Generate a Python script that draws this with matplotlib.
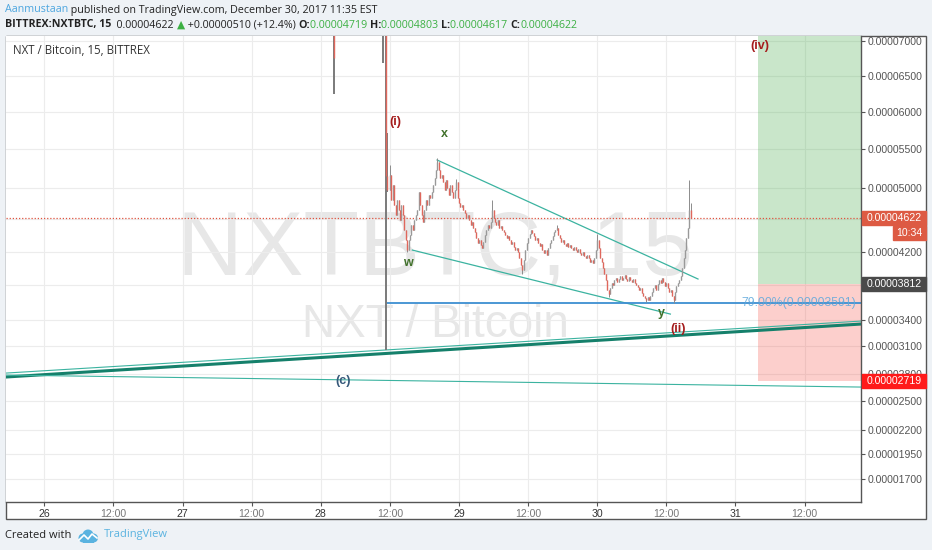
import numpy as np
import matplotlib
matplotlib.use("Agg")
import matplotlib.pyplot as plt
from matplotlib.patches import Rectangle, Circle

W, H = 932, 550
E8 = 1e-8

# prices are in 1e-8 BTC, time is hours after Dec 26 00:00
pre_time = [50.25, 58.75, 59.25, 59.5]
pre_open = [7600, 7400, 9500, 5150]
pre_high = [7700, 7500, 9500, 5720]
pre_low = [6250, 6680, 3060, 4950]
pre_close = [6750, 7300, 5150, 4970]

bar_start = 59.75
bar_step = 0.25
closes = [
    4970, 5165, 4845, 5035, 4780, 4655, 4845, 4720, 4595, 4780,
    4655, 4470, 4345, 4225, 4345, 4405, 4530, 4470, 4595, 4655,
    4720, 4945, 4780, 4655, 4570, 4720, 4845, 4780, 4905, 4870,
    4945, 5035, 5125, 5230, 5335, 5230, 5125, 5165, 5075, 4970,
    5100, 4995, 4905, 5035, 4945, 4870, 4970, 5075, 4870, 4805,
    4755, 4780, 4720, 4680, 4620, 4655, 4595, 4530, 4570, 4495,
    4445, 4370, 4310, 4345, 4285, 4250, 4320, 4405, 4470, 4530,
    4495, 4570, 4720, 4620, 4570, 4530, 4595, 4495, 4520, 4470,
    4445, 4405, 4370, 4395, 4345, 4300, 4320, 4260, 4225, 4250,
    4200, 4130, 4045, 3985, 4105, 4225, 4310, 4370, 4420, 4470,
    4435, 4395, 4345, 4370, 4310, 4270, 4300, 4225, 4185, 4225,
    4165, 4250, 4310, 4345, 4395, 4445, 4470, 4495, 4405, 4370,
    4320, 4345, 4300, 4270, 4310, 4260, 4285, 4250, 4225, 4260,
    4225, 4200, 4235, 4185, 4165, 4200, 4150, 4130, 4165, 4130,
    4080, 4105, 4070, 4130, 4225, 4345, 4250, 4130, 4080, 4010,
    3940, 3865, 3745, 3700, 3770, 3830, 3805, 3865, 3890, 3840,
    3880, 3915, 3865, 3890, 3925, 3880, 3855, 3900, 3865, 3840,
    3880, 3830, 3805, 3785, 3745, 3770, 3710, 3675, 3650, 3630,
    3665, 3630, 3675, 3725, 3770, 3805, 3745, 3815, 3865, 3830,
    3890, 3840, 3795, 3830, 3770, 3725, 3745, 3675, 3630, 3725,
    3795, 3830, 3865, 3915, 4010, 4130, 4225, 4370, 4495, 4719,
    4622,
]
# bar index -> (high, low) where the wick sticks out
wicks = {1: (5300, 4970), 13: (4345, 4200), 34: (5385, 5230), 47: (5110, 4970),
         72: (4850, 4570), 93: (4045, 3930), 117: (4530, 4470), 145: (4420, 4225),
         153: (3745, 3660), 179: (3650, 3610), 198: (3675, 3600), 209: (5100, 4495),
         210: (4803, 4617)}

time_ticks = list(range(0, 144, 12))
time_labels = ['26', '12:00', '27', '12:00', '28', '12:00', '29', '12:00',
               '30', '12:00', '31', '12:00']
price_ticks = [7000, 6500, 6000, 5500, 5000, 4600, 4200, 3800, 3400, 3100,
               2800, 2500, 2200, 1950, 1700]
hidden_ticks = [4600, 3800]  # sit under the price boxes

last_price = 4622
entry_price = 3812
stop_price = 2719
fib_price = 3591
box_start = 124

upper_channel = ([68.2, 113.5], [5359, 3876])
lower_channel = ([63.9, 108.7], [4223, 3467])
trend_thick = ([-6.65, 141.8], [2763, 3353])
trend_thin = ([-6.65, 141.8], [2806, 3387])
trend_down = ([-6.65, 141.8], [2784, 2654])

wave_labels = [('(i)', 60.9, 5865, '#a51c1c'), ('x', 69.4, 5703, '#41712b'),
               ('w', 63.2, 4066, '#41712b'), ('y', 107.1, 3479, '#41712b'),
               ('(ii)', 110.1, 3296, '#a51c1c'), ('(iv)', 124.3, 6928, '#a51c1c'),
               ('(c)', 51.9, 2719, '#36597a')]

# ---------------------------------------------------------------
fig = plt.figure(figsize=(W / 100, H / 100), dpi=100, facecolor='#eef2f6')
fig.patches.append(Rectangle((6 / W, 1 - 519 / H), 920 / W, 483 / H,
                             transform=fig.transFigure, facecolor='white',
                             edgecolor='#555555', lw=1, zorder=-1))

ax = fig.add_axes([6 / W, 1 - 502 / H, 855 / W, 466 / H])
ax.set_yscale('function', functions=(lambda p: np.log(np.maximum(p, 1e-9) + 1e-4),
                                     lambda v: np.exp(v) - 1e-4))
ax.set_xlim(-6.65, 141.8)
ax.set_ylim(1472 * E8, 7073 * E8)

for s in ['top', 'left']:
    ax.spines[s].set_visible(False)
for s in ['right', 'bottom']:
    ax.spines[s].set_color('#555555')
    ax.spines[s].set_linewidth(1)

ax.yaxis.tick_right()
ax.set_yticks([p * E8 for p in price_ticks])
ax.set_yticklabels(['' if p in hidden_ticks else f'{p * E8:.8f}' for p in price_ticks])
ax.yaxis.set_minor_locator(matplotlib.ticker.NullLocator())
ax.tick_params(axis='y', length=3, width=0.8, color='#555555', labelsize=7.6,
               labelcolor='#555555', pad=2)
for lab in ax.get_yticklabels():
    lab.set_family('Liberation Sans')
ax.set_xticks(time_ticks)
ax.set_xticklabels(time_labels)
ax.tick_params(axis='x', length=3, width=0.8, color='#555555', labelsize=7.6, pad=2)
for lab in ax.get_xticklabels():
    lab.set_family('Liberation Sans')
    lab.set_color('#333333' if ':' not in lab.get_text() else '#777777')
ax.grid(color='#ececec', lw=0.8, zorder=0)
ax.set_axisbelow(True)

# watermark
ax.text(0.5018, 0.489, 'NXTBTC, 15', transform=ax.transAxes, ha='center', va='baseline',
        fontsize=65.5, family='Liberation Sans', color='#e7e7e7', zorder=0.5)
ax.text(0.5018, 0.355, 'NXT / Bitcoin', transform=ax.transAxes, ha='center', va='baseline',
        fontsize=33, family='Liberation Sans', color='#e7e7e7', zorder=0.5)

# position boxes
ax.fill_between([box_start, 150], entry_price * E8, 8000 * E8, color='#4caf50',
                alpha=0.3, lw=0, zorder=1)
ax.fill_between([box_start, 150], stop_price * E8, entry_price * E8, color='#f44336',
                alpha=0.25, lw=0, zorder=1)

# drawings
ax.plot(trend_thin[0], [p * E8 for p in trend_thin[1]], color='#3bb3a0', lw=0.8, zorder=2)
ax.plot(trend_thick[0], [p * E8 for p in trend_thick[1]], color='#15806b', lw=2.2, zorder=2)
ax.plot(trend_down[0], [p * E8 for p in trend_down[1]], color='#3bb3a0', lw=0.8, zorder=2)
ax.plot(upper_channel[0], [p * E8 for p in upper_channel[1]], color='#3bb3a0', lw=0.9, zorder=2)
ax.plot(lower_channel[0], [p * E8 for p in lower_channel[1]], color='#3bb3a0', lw=0.9, zorder=2)
ax.plot([pre_time[-1], 141.8], [fib_price * E8] * 2, color='#3d8fd1', lw=1.3, zorder=2)
ax.text(141.0, fib_price * E8, f'79.00%({fib_price * E8:.8f})', ha='right', va='center',
        fontsize=8.8, family='Liberation Sans', color='#5ea8dc', alpha=0.85, zorder=2)
ax.axhline(last_price * E8, color='#e0533f', lw=0.9, ls=(0, (1, 1.5)), zorder=2)

# candles
opens = [pre_close[-1]] + closes[:-1]
times = bar_start + bar_step * np.arange(len(closes))
highs = [wicks.get(i, (max(o, c), min(o, c)))[0] for i, (o, c) in enumerate(zip(opens, closes))]
lows = [wicks.get(i, (max(o, c), min(o, c)))[1] for i, (o, c) in enumerate(zip(opens, closes))]
t_all = np.array(pre_time + list(times))
o_all = np.array(pre_open + opens) * E8
c_all = np.array(pre_close + closes) * E8
h_all = np.array(pre_high + highs) * E8
l_all = np.array(pre_low + lows) * E8
n_pre = len(pre_time)
ax.vlines(t_all[:n_pre], l_all[:n_pre], h_all[:n_pre], color='#7a7a7a', lw=1.4, zorder=3)
ax.vlines(t_all[n_pre:], l_all[n_pre:], h_all[n_pre:], color='#8c8c8c', lw=0.7, zorder=3)
up = c_all >= o_all
ax.vlines(t_all[up], o_all[up], c_all[up], color='#999999', lw=1.0, zorder=4)
ax.vlines(t_all[~up], o_all[~up], c_all[~up], color='#e0675c', lw=1.0, zorder=4)

for txt, tx, ty, col in wave_labels:
    ax.text(tx, ty * E8, txt, ha='center', va='center', fontsize=9, fontweight='bold',
            family='Liberation Sans', color=col, zorder=5)


# price axis boxes
def price_box(price, text, color, x0=862, x1=926):
    y = ax.transData.transform((0, price * E8))[1]
    fig.patches.append(Rectangle((x0 / W, (y - 7) / H), (x1 - x0) / W, 14 / H,
                                 transform=fig.transFigure, color=color, zorder=5))
    fig.text((x0 + 5) / W, y / H, text, ha='left', va='center', fontsize=7.6,
             family='Liberation Sans', color='white', zorder=6)
    return y


yl = price_box(last_price, f'{last_price * E8:.8f}', '#dd5a43')
fig.patches.append(Rectangle((893 / W, (yl - 22) / H), 33 / W, 14 / H,
                             transform=fig.transFigure, color='#dd5a43', zorder=5))
fig.text(922 / W, (yl - 15) / H, '10:34', ha='right', va='center', fontsize=7.6,
         family='Liberation Sans', color='white', zorder=6)
price_box(entry_price, f'{entry_price * E8:.8f}', '#4a4a4a')
price_box(stop_price, f'{stop_price * E8:.8f}', '#ff1a1a')

fig.text(13 / W, 1 - 51 / H, 'NXT / Bitcoin, 15, BITTREX', ha='left', va='center',
         fontsize=8.3, family='Open Sans', color='#333333')

# header
renderer = fig.canvas.get_renderer()


def runs(x, y, parts, size):
    for text, color, weight in parts:
        t = fig.text(x / W, 1 - y / H, text, ha='left', va='center', fontsize=size,
                     fontweight=weight, family=['Open Sans', 'DejaVu Sans'], color=color)
        x += t.get_window_extent(renderer).width


green = '#3cb043'
dark = '#222222'
runs(5, 10, [('Aanmustaan', '#4da6df', 'normal'),
             (' published on TradingView.com, December 30, 2017 11:35 EST', dark, 'normal')], 7.75)
runs(5, 25, [('BITTREX:NXTBTC, 15', dark, 'bold'), ('  0.00004622 ', dark, 'normal'),
             ('\u25b2', green, 'normal'), (' +0.00000510 (+12.4%) ', dark, 'normal'),
             ('O:', dark, 'bold'), ('0.00004719 ', green, 'normal'),
             ('H:', dark, 'bold'), ('0.00004803 ', green, 'normal'),
             ('L:', dark, 'bold'), ('0.00004617 ', green, 'normal'),
             ('C:', dark, 'bold'), ('0.00004622', green, 'normal')], 7.7)

# footer
fig.text(5 / W, 1 - 535 / H, 'Created with', ha='left', va='center', fontsize=8,
         family='Open Sans', color='#222222')
fig.text(104 / W, 1 - 535 / H, 'TradingView', ha='left', va='center', fontsize=8,
         family='Open Sans', color='#5ab3e0')
lax = fig.add_axes([77 / W, 1 - 543 / H, 22 / W, 15 / H])
lax.set_xlim(0, 22)
lax.set_ylim(0, 15)
lax.axis('off')
for cx, cy, r in [(6, 5, 4.5), (11, 8, 5.5), (16.5, 5, 4.5)]:
    lax.add_patch(Circle((cx, cy), r, color='#5ab3e0', lw=0))
lax.add_patch(Rectangle((6, 0.5), 10.5, 5, color='#5ab3e0', lw=0))
lax.plot([2, 7, 11, 15, 20], [3, 8, 4, 9, 5], color='white', lw=1.2)

fig.savefig('out.png', dpi=100, facecolor=fig.get_facecolor())
